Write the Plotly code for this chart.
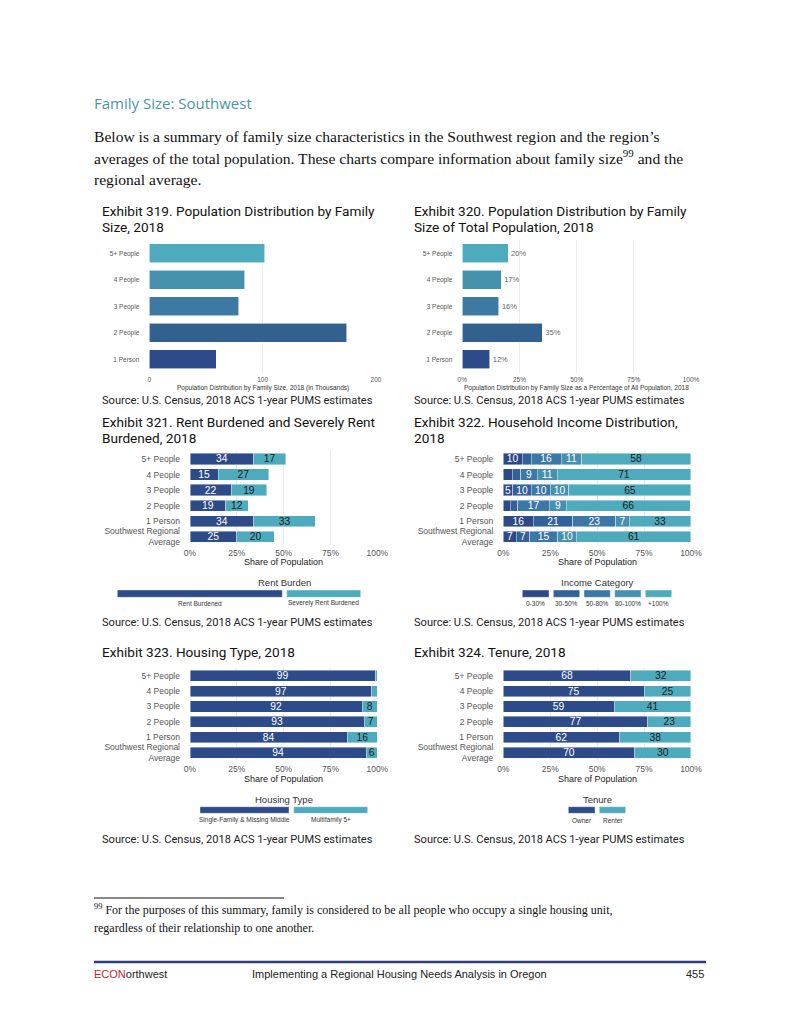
import plotly.graph_objects as go

W, H = 800, 1035

# ---------------- data ----------------
size_rows = ["5+ People", "4 People", "3 People", "2 People", "1 Person"]
pop_thousands = [102, 84, 79, 174, 59]
pop_share_pct = [20, 17, 16, 35, 12]

group_rows = ["5+ People", "4 People", "3 People", "2 People", "1 Person",
              "Southwest Regional<br>Average"]

rent_burden_labels = ["Rent Burdened", "Severely Rent Burdened"]
rent_burdened = [34, 15, 22, 19, 34, 25]
severely_rent_burdened = [17, 27, 19, 12, 33, 20]

income_categories = ["0-30%", "30-50%", "50-80%", "80-100%", "+100%"]
income_0_30 = [10, 4.8, 5, 3.6, 16, 7]
income_30_50 = [4.8, 4.6, 10, 4, 21, 7]
income_50_80 = [16, 8.7, 10, 17, 23, 15]
income_80_100 = [11, 10.7, 10, 9, 7, 10]
income_100_plus = [58, 71, 65, 66, 33, 61]

housing_labels = ["Single-Family & Missing Middle", "Multifamily 5+"]
housing_sf = [99, 97, 92, 93, 84, 94]
housing_mf = [1, 3, 8, 7, 16, 6]

tenure_labels = ["Owner", "Renter"]
tenure_owner = [68, 75, 59, 77, 62, 70]
tenure_renter = [32, 25, 41, 23, 38, 30]

pct_ticks = [0, 25, 50, 75, 100]
pct_ticktext = ["0%", "25%", "50%", "75%", "100%"]
thousand_ticks = [0, 100, 200]

# ---------------- style ----------------
NAVY = "#2d4b88"
TEAL = "#4eabbe"
SIZE_COLORS = ["#4eaabd", "#4692ae", "#3d79a2", "#33618f", "#2d4b88"]
INCOME_COLORS = ["#2d4a87", "#33629a", "#3b78a8", "#4690b0", "#4eabbe"]
SANS = "Liberation Sans"
TITLE_FONT = "Roboto"
SERIF = "Liberation Serif"
GRID = "#ebebeb"


def px(x):
    return x / W


def py(y):
    return 1 - y / H


fig = go.Figure()
layout_axes = {}
annotations = []
shapes = []


def ann(text, x, y, size, color="#222", xanchor="left", family=SANS, yanchor="middle"):
    if xanchor == "left":
        x -= 2  # compensate annotation padding
    annotations.append(dict(text=text, x=px(x), y=py(y), xref="paper", yref="paper",
                            showarrow=False, xanchor=xanchor, yanchor=yanchor,
                            font=dict(size=size, color=color, family=family)))


def setup_axes(n, x0, x1, y0, y1, xrange, tickvals, ticktext, rows, xfont, yfont):
    xk = "xaxis" if n == 1 else f"xaxis{n}"
    yk = "yaxis" if n == 1 else f"yaxis{n}"
    layout_axes[xk] = dict(domain=[px(x0), px(x1)], range=xrange, anchor=f"y{n}" if n > 1 else "y",
                           tickvals=tickvals, ticktext=ticktext, showgrid=True, gridcolor=GRID,
                           gridwidth=1, zeroline=False, showline=False, ticks="",
                           tickfont=dict(size=xfont, color="#555", family=SANS),
                           fixedrange=True, ticklabelstandoff=2, automargin=False)
    layout_axes[yk] = dict(domain=[py(y1), py(y0)], anchor=f"x{n}" if n > 1 else "x",
                           type="category", categoryorder="array",
                           categoryarray=list(reversed(rows)), range=[-0.5, len(rows) - 0.5],
                           showgrid=False, zeroline=False, showline=False, ticks="",
                           tickfont=dict(size=yfont, color="#555", family=SANS),
                           ticklabelstandoff=9, fixedrange=True, automargin=False)


def label_text(vals):
    return [f"{round(v)}" if v >= 5 else None for v in vals]


def add_stack(n, vals, rows, color, txtcolor):
    xa = "x" if n == 1 else f"x{n}"
    ya = "y" if n == 1 else f"y{n}"
    fig.add_trace(go.Bar(orientation="h", x=vals, y=rows, xaxis=xa, yaxis=ya,
                         marker=dict(color=color, line=dict(color="rgba(255,255,255,0.7)", width=0.6)),
                         text=label_text(vals), textposition="inside", insidetextanchor="middle",
                         constraintext="none", textangle=0,
                         textfont=dict(size=10.3, color=txtcolor, family=SANS),
                         showlegend=False, hoverinfo="skip"))


def legend(title, cx, title_y, keys, key_y0, key_y1, label_y):
    ann(title, cx, title_y, 9.5, "#333", xanchor="center")
    for (k0, k1, color, lab) in keys:
        shapes.append(dict(type="rect", xref="paper", yref="paper", x0=px(k0), x1=px(k1),
                           y0=py(key_y1), y1=py(key_y0), fillcolor=color,
                           line=dict(color="rgba(255,255,255,0.8)", width=0.5)))
        ann(lab, (k0 + k1) / 2, label_y, 6.5, "#333", xanchor="center")


# ---------------- Exhibit 319 ----------------
setup_axes(1, 149.3, 376, 240, 372.6, [0, 200], thousand_ticks, [str(t) for t in thousand_ticks],
           size_rows, 6.5, 6.5)
fig.add_trace(go.Bar(orientation="h", x=pop_thousands, y=size_rows, xaxis="x", yaxis="y",
                     marker=dict(color=SIZE_COLORS, line=dict(color="rgba(255,255,255,0.7)", width=0.8)),
                     showlegend=False, hoverinfo="skip"))
ann("Population Distribution by Family Size, 2018 (in Thousands)", 262.7, 387.7, 6.5, "#333", "center")

# ---------------- Exhibit 320 ----------------
setup_axes(2, 462.3, 691, 240, 372.6, [0, 100], pct_ticks, pct_ticktext, size_rows, 6.5, 6.5)
fig.add_trace(go.Bar(orientation="h", x=pop_share_pct, y=size_rows, xaxis="x2", yaxis="y2",
                     marker=dict(color=SIZE_COLORS, line=dict(color="rgba(255,255,255,0.7)", width=0.8)),
                     text=[f"{v}%" for v in pop_share_pct], textposition="outside",
                     textfont=dict(size=7.5, color="#666", family=SANS), cliponaxis=False,
                     showlegend=False, hoverinfo="skip"))
ann("Population Distribution by Family Size as a Percentage of All Population, 2018",
    576.6, 387.7, 6.5, "#333", "center")

# ---------------- Exhibit 321 ----------------
setup_axes(3, 190, 377.3, 451.2, 544.5, [0, 100], pct_ticks, pct_ticktext, group_rows, 8.5, 8.5)
add_stack(3, rent_burdened, group_rows, NAVY, "white")
add_stack(3, severely_rent_burdened, group_rows, TEAL, "#1a1a1a")
ann("Share of Population", 283.6, 562.3, 9, "#222", "center")
legend("Rent Burden", 284, 582.7,
       [(117.3, 282.3, NAVY, rent_burden_labels[0]), (286.7, 360.7, TEAL, rent_burden_labels[1])],
       590, 597.3, 603.3)

# ---------------- Exhibit 322 ----------------
setup_axes(4, 503.3, 691, 451.2, 544.5, [0, 100], pct_ticks, pct_ticktext, group_rows, 8.5, 8.5)
income_series = [income_0_30, income_30_50, income_50_80, income_80_100, income_100_plus]
for i, vals in enumerate(income_series):
    add_stack(4, vals, group_rows, INCOME_COLORS[i], "white" if i < 4 else "#1a1a1a")
ann("Share of Population", 597, 562.3, 9, "#222", "center")
inc_keys = [(522.3, 549), (553.3, 579.7), (584, 610.3), (614.7, 641), (645.3, 671.7)]
legend("Income Category", 597, 582.7,
       [(k[0], k[1], INCOME_COLORS[i], income_categories[i]) for i, k in enumerate(inc_keys)],
       590, 597.3, 603.3)

# ---------------- Exhibit 323 ----------------
setup_axes(5, 190, 377.3, 668, 760.4, [0, 100], pct_ticks, pct_ticktext, group_rows, 8.5, 8.5)
add_stack(5, housing_sf, group_rows, NAVY, "white")
add_stack(5, housing_mf, group_rows, TEAL, "#1a1a1a")
ann("Share of Population", 283.6, 778.7, 9, "#222", "center")
legend("Housing Type", 284, 799,
       [(200, 289, NAVY, housing_labels[0]), (293.7, 367.7, TEAL, housing_labels[1])],
       806.7, 813.3, 820)

# ---------------- Exhibit 324 ----------------
setup_axes(6, 503.3, 691, 668, 760.4, [0, 100], pct_ticks, pct_ticktext, group_rows, 8.5, 8.5)
add_stack(6, tenure_owner, group_rows, NAVY, "white")
add_stack(6, tenure_renter, group_rows, TEAL, "#1a1a1a")
ann("Share of Population", 597, 778.7, 9, "#222", "center")
legend("Tenure", 597, 799,
       [(568.3, 595, NAVY, tenure_labels[0]), (599.3, 625.7, TEAL, tenure_labels[1])],
       806.7, 813.3, 820)

# ---------------- page text ----------------
ann("Family Size: Southwest", 94, 103, 15, "#4a96a3", family="Open Sans")
body = [
    "Below is a summary of family size characteristics in the Southwest region and the region\u2019s",
    "averages of the total population. These charts compare information about family size<sup>99</sup> and the",
    "regional average.",
]
for i, line in enumerate(body):
    ann(line, 94, 137 + i * 21.5 + 10, 15.6, "#111", family=SERIF, yanchor="bottom")

titles = [
    ("Exhibit 319. Population Distribution by Family", 101.7, 211),
    ("Size, 2018", 101.7, 227),
    ("Exhibit 320. Population Distribution by Family", 414.3, 211),
    ("Size of Total Population, 2018", 414.3, 227),
    ("Exhibit 321. Rent Burdened and Severely Rent", 101.7, 421.7),
    ("Burdened, 2018", 101.7, 438.3),
    ("Exhibit 322. Household Income Distribution,", 414.3, 421.7),
    ("2018", 414.3, 438.3),
    ("Exhibit 323. Housing Type, 2018", 101.7, 651.7),
    ("Exhibit 324. Tenure, 2018", 414.3, 651.7),
]
for t, x, y in titles:
    ann(t, x, y, 13.6, "#111", family=TITLE_FONT)

src = "Source: U.S. Census, 2018 ACS 1-year PUMS estimates"
for x, y in [(101.7, 400.7), (414.3, 400.7), (101.7, 622.3), (414.3, 622.3), (101.7, 839), (414.3, 839)]:
    ann(src, x, y, 11.1, "#222", family=TITLE_FONT)

# footnote
shapes.append(dict(type="line", xref="paper", yref="paper", x0=px(94), x1=px(284),
                   y0=py(898), y1=py(898), line=dict(color="#111", width=1)))
ann("<sup>99</sup> For the purposes of this summary, family is considered to be all people who occupy a single housing unit,",
    94, 913 + 6, 12, "#111", family=SERIF, yanchor="bottom")
ann("regardless of their relationship to one another.", 94, 931 + 6, 12, "#111", family=SERIF, yanchor="bottom")

# footer
shapes.append(dict(type="line", xref="paper", yref="paper", x0=px(94), x1=px(706),
                   y0=py(962), y1=py(962), line=dict(color="#2e3f7f", width=2.5)))
ann("<span style='color:#c1272d'>ECON</span>orthwest", 94, 974, 11, "#222", family=SANS)
ann("Implementing a Regional Housing Needs Analysis in Oregon", 399, 974, 11, "#222", "center", family=SANS)
ann("455", 706, 974, 11, "#222", "right", family=SANS)

fig.update_layout(width=W, height=H, margin=dict(l=0, r=0, t=0, b=0, autoexpand=False),
                  autosize=False,
                  paper_bgcolor="white", plot_bgcolor="white",
                  barmode="stack", bargap=0.28, showlegend=False,
                  annotations=annotations, shapes=shapes, **layout_axes)

fig.write_html("out.html", config={"responsive": False, "displayModeBar": False},
               post_script="document.body.style.margin='0px';")
